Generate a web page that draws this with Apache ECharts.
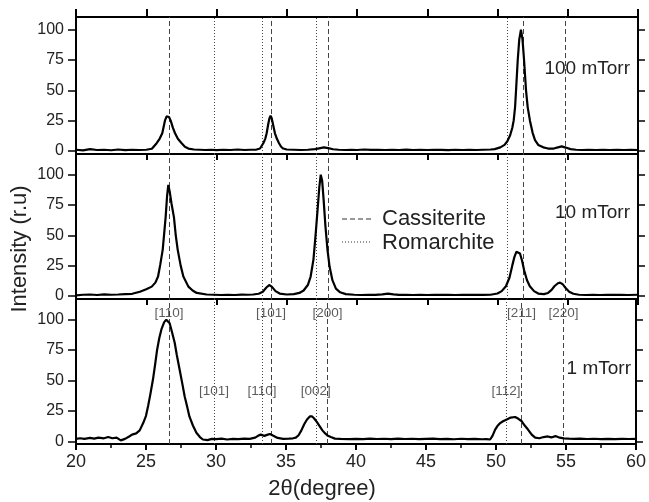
<!DOCTYPE html>
<html><head><meta charset="utf-8">
<script src="https://cdn.jsdelivr.net/npm/echarts@6/dist/echarts.min.js"></script>
<style>html,body{margin:0;padding:0;background:#fff}#c{width:649px;height:502px}</style>
</head><body><div id="c"></div>
<script>
// ---- data ----
const xTicksStep = 5;
const yTickValues = [0, 25, 50, 75, 100];
const panelNames = ['100 mTorr', '10 mTorr', '1 mTorr'];

const data100 = [[20,1],[20.5,0.5],[21,1.5],[21.5,0.8],[22,1],[22.5,0.6],[23,1.2],[23.5,0.7],[24,1],[24.5,0.8],[25,1],[25.4,1.8],[25.74,6.4],[25.95,10],[26.14,14.6],[26.33,25],[26.45,28.5],[26.53,29],[26.62,28],[26.74,25],[26.9,19],[27.05,14.6],[27.25,10],[27.52,6.4],[27.75,3.5],[28,2],[28.4,1.2],[28.8,1],[29.2,0.8],[29.6,1],[30,0.7],[30.5,1],[31,0.8],[31.5,1.2],[32,0.8],[32.4,1],[32.8,1],[33.1,2],[33.33,6.4],[33.47,10],[33.57,14.6],[33.68,22],[33.77,27],[33.85,29],[33.93,27],[34.02,22],[34.16,14.6],[34.3,10],[34.45,6.4],[34.6,3.5],[34.75,2],[35,1.2],[35.5,1],[36,0.8],[36.5,1],[37,1.5],[37.3,2.2],[37.65,3],[37.95,2.4],[38.3,1.4],[38.7,1],[39.2,0.8],[39.6,1],[40,0.8],[40.5,1.2],[41,0.9],[41.5,1],[42,0.8],[42.5,1],[43,0.8],[43.5,1.1],[44,0.8],[44.5,1],[45,0.8],[45.5,1],[46,0.9],[46.5,0.7],[47,1],[47.5,0.8],[48,1],[48.5,0.8],[49,1],[49.5,1.2],[49.8,1.5],[50.2,3],[50.5,5],[50.7,8],[50.9,13],[51.05,19],[51.15,25],[51.25,36],[51.32,50],[51.44,75],[51.55,92],[51.67,100],[51.78,92],[51.89,75],[52.03,50],[52.15,36],[52.31,25],[52.5,15],[52.67,9],[52.9,5],[53.26,3],[53.6,2],[54,2],[54.3,3],[54.57,3.8],[54.85,2.8],[55.2,1.5],[55.6,1],[56,0.8],[56.5,1],[57,0.8],[57.5,1],[58,0.8],[58.5,1],[59,0.8],[59.5,1],[60,0.8]];

const data10 = [[20,0.5],[20.5,1],[21,1.2],[21.5,0.8],[22,1.3],[22.5,1],[23,1.2],[23.5,1.5],[24,1.8],[24.55,3.5],[25,5.5],[25.39,7.7],[25.65,11],[25.84,16],[26,26],[26.17,38],[26.28,52],[26.38,65],[26.48,82],[26.57,91.5],[26.67,86],[26.8,76],[26.97,65],[27.1,50],[27.24,38],[27.45,25],[27.64,16],[28,7.7],[28.3,4.5],[28.59,2.5],[29.3,1.2],[29.8,1],[30.3,0.8],[30.8,1],[31.3,0.8],[31.8,1.1],[32.2,1],[32.6,1.2],[33,1.8],[33.3,3.5],[33.55,7],[33.75,9],[33.95,7.5],[34.2,4],[34.5,2],[35,1.2],[35.5,1.5],[35.9,2.5],[36.2,4.5],[36.5,9],[36.7,16],[36.9,30],[37.05,50],[37.2,72],[37.32,90],[37.42,100],[37.52,95],[37.62,80],[37.75,58],[37.9,38],[38.05,24],[38.25,13],[38.5,6],[38.8,3],[39.2,1.5],[39.8,1],[40.3,0.8],[40.8,1],[41.3,0.9],[41.8,1.3],[42.2,2],[42.6,1.3],[43,0.9],[43.5,1],[44,0.8],[44.5,1],[45,0.8],[45.5,1],[46,0.9],[46.5,1],[47,0.8],[47.5,1],[48,0.9],[48.5,1],[49,0.9],[49.5,1],[50,2],[50.3,4],[50.6,8],[50.85,15],[51.05,25],[51.2,32],[51.35,36.5],[51.45,37],[51.6,35],[51.75,29],[51.9,21],[52.1,13],[52.3,8],[52.6,4],[52.9,2],[53.3,1.5],[53.6,2.5],[53.85,5],[54.05,8],[54.3,10.5],[54.45,11],[54.65,9.5],[54.85,6.5],[55.1,3.5],[55.4,1.8],[55.8,1],[56.3,0.8],[56.8,1],[57.3,0.8],[57.8,1],[58.3,0.9],[58.8,1],[59.3,0.8],[60,1]];

const data1 = [[20,2],[20.3,2.5],[20.6,2],[21,2.8],[21.3,2.2],[21.6,3],[22,2.5],[22.3,3.5],[22.6,2.5],[22.9,3],[23.2,0.8],[23.5,2],[23.8,4],[24,5.5],[24.3,6.5],[24.55,9],[24.8,15],[25,21],[25.15,29],[25.3,38],[25.5,51],[25.65,63],[25.79,75],[25.95,85],[26.1,92],[26.3,98],[26.45,100],[26.55,99],[26.69,97],[26.85,90],[27.05,81],[27.2,71],[27.4,59],[27.6,47],[27.76,37],[27.95,28],[28.1,20.5],[28.35,13],[28.6,7],[28.85,3.5],[29.06,1.5],[29.4,1],[29.7,2],[30,1.8],[30.4,2.2],[30.8,1.5],[31.2,2],[31.6,1.8],[32,2.2],[32.4,2],[32.8,3],[33,4.5],[33.2,5.5],[33.45,4.5],[33.7,5.5],[33.85,6],[34.1,4.5],[34.4,2.8],[34.8,2],[35.2,2.2],[35.5,2.5],[35.7,3],[35.9,5],[36.1,9],[36.3,14],[36.5,18],[36.7,20.5],[36.85,20.6],[37,19],[37.2,16],[37.4,12.5],[37.6,9],[37.8,6.5],[38,4.5],[38.2,3.5],[38.5,2.2],[38.9,2],[39.5,1.8],[40,2],[40.5,1.8],[41,2.2],[41.5,1.9],[42,2.1],[42.5,1.8],[43,2.2],[43.5,1.9],[44,2.1],[44.5,1.8],[45,2],[45.5,2.2],[46,1.8],[46.5,2],[47,1.7],[47.5,2.1],[48,1.8],[48.5,2],[49,1.7],[49.3,1.8],[49.58,1.5],[49.75,4.5],[49.94,9.6],[50.1,12.5],[50.3,15],[50.5,16.5],[50.77,18],[51.05,19.5],[51.37,20],[51.6,18.5],[51.84,16.5],[52.05,13],[52.3,9.5],[52.55,5.5],[52.8,3],[53.1,2.5],[53.4,3.5],[53.7,4],[53.95,3.2],[54.25,4.3],[54.55,3],[54.85,2.4],[55.2,2.2],[55.6,2],[56,2.2],[56.5,1.9],[57,2.1],[57.5,1.8],[58,2],[58.5,1.8],[59,2],[59.5,1.9],[60,2]];

const cassiterite = [26.64, 33.93, 37.96, 51.82, 54.83];
const cassiteriteLabels = ['[110]', '[101]', '[200]', '[211]', '[220]'];
const cassiteriteLabelY = [105, 105, 105, 105, 105];
const romarchite = [29.85, 33.28, 37.13, 50.72];
const romarchiteLabels = ['[101]', '[110]', '[002]', '[112]'];
const romarchiteLabelY = [41, 41, 41, 41];

// ---- chart ----
const FONT = 'Liberation Sans, Arial, Helvetica, sans-serif';
const chart = echarts.init(document.getElementById('c'), null, {renderer: 'canvas'});

const grids = [
  {left: 76, width: 562, top: 17, height: 137},
  {left: 76, width: 562, top: 154, height: 145},
  {left: 76, width: 562, top: 299, height: 145}
];
const yRanges = [[-2.5, 110.5], [-2.5, 117], [-2.2, 117]];

function xAx(grid, pos, opts) {
  return Object.assign({
    type: 'value', gridIndex: grid, position: pos, min: 20, max: 60, interval: xTicksStep,
    axisLine: {show: true, onZero: false, lineStyle: {color: '#000', width: 2}},
    axisTick: {show: true, inside: false, length: 6, lineStyle: {color: '#000', width: 2}},
    axisLabel: {show: false},
    splitLine: {show: false}
  }, opts || {});
}
function yAx(grid, pos, withLabels) {
  return {
    type: 'value', gridIndex: grid, position: pos, min: yRanges[grid][0], max: yRanges[grid][1],
    axisLine: {show: true, onZero: false, lineStyle: {color: '#000', width: 2}},
    axisTick: {show: true, inside: false, length: pos === 'left' ? 8 : 7, customValues: yTickValues, lineStyle: {color: '#000', width: 1.5}},
    axisLabel: withLabels ? {show: true, customValues: yTickValues, margin: 12, fontSize: 16, fontFamily: FONT, color: '#222'} : {show: false},
    splitLine: {show: false}
  };
}

const xAxes = [
  xAx(0, 'bottom'),
  xAx(0, 'top', {axisTick: {show: true, inside: false, length: 8, lineStyle: {color: '#000', width: 2}}}),
  xAx(1, 'bottom'),
  xAx(2, 'bottom', {
    axisLabel: {show: true, margin: 9, fontSize: 18, fontFamily: FONT, color: '#222'},
    minorTick: {show: true, splitNumber: 2, length: 4, lineStyle: {color: '#000', width: 1.5}}
  })
];
const yAxes = [yAx(0, 'left', true), yAx(0, 'right', false), yAx(1, 'left', true), yAx(1, 'right', false), yAx(2, 'left', true), yAx(2, 'right', false)];

function refLines() {
  return {
    silent: true, symbol: ['none', 'none'], label: {show: false}, animation: false,
    data: cassiterite.map(v => ({xAxis: v, lineStyle: {type: [5, 3], color: '#444', width: 1}}))
      .concat(romarchite.map(v => ({xAxis: v, lineStyle: {type: [1, 2], color: '#444', width: 1}})))
  };
}
function curve(data, xi, yi) {
  return {
    type: 'line', xAxisIndex: xi, yAxisIndex: yi, data: data, showSymbol: false, symbol: 'none',
    lineStyle: {color: '#000', width: 2.2}, z: 5, markLine: refLines()
  };
}
function labelSeries(xs, ys, texts) {
  return {
    type: 'scatter', xAxisIndex: 3, yAxisIndex: 4, symbolSize: 1, silent: true,
    itemStyle: {color: 'rgba(0,0,0,0)'},
    data: xs.map((x, i) => ({value: [x, ys[i]], name: texts[i]})),
    label: {show: true, position: 'inside', formatter: p => p.name, fontSize: 13.5, fontFamily: FONT, color: '#333'},
    z: 6
  };
}

const option = {
  backgroundColor: '#fff',
  animation: false,
  grid: grids,
  xAxis: xAxes,
  yAxis: yAxes,
  series: [
    curve(data100, 0, 0),
    curve(data10, 2, 2),
    curve(data1, 3, 4),
    labelSeries(cassiterite, cassiteriteLabelY, cassiteriteLabels),
    labelSeries(romarchite, romarchiteLabelY, romarchiteLabels)
  ],
  graphic: [
    {type: 'text', right: 19, top: 59, style: {text: panelNames[0], fontSize: 19, fontFamily: FONT, fill: '#222'}},
    {type: 'text', right: 19, top: 203, style: {text: panelNames[1], fontSize: 19, fontFamily: FONT, fill: '#222'}},
    {type: 'text', right: 18, top: 359, style: {text: panelNames[2], fontSize: 19, fontFamily: FONT, fill: '#222'}},
    {type: 'line', shape: {x1: 342, y1: 219, x2: 371, y2: 219}, style: {stroke: '#333', lineWidth: 1, lineDash: [5, 3]}},
    {type: 'text', x: 382, y: 219, style: {text: 'Cassiterite', fontSize: 22, fontFamily: FONT, fill: '#222', verticalAlign: 'middle'}},
    {type: 'line', shape: {x1: 342, y1: 242, x2: 371, y2: 242}, style: {stroke: '#333', lineWidth: 1, lineDash: [1, 2]}},
    {type: 'text', x: 382, y: 243, style: {text: 'Romarchite', fontSize: 22, fontFamily: FONT, fill: '#222', verticalAlign: 'middle'}},
    {type: 'text', x: 20, y: 249, rotation: Math.PI / 2, style: {text: 'Intensity (r.u)', fontSize: 22, fontFamily: FONT, fill: '#222', align: 'center', verticalAlign: 'middle'}},
    {type: 'text', x: 322, y: 489, style: {text: '2θ(degree)', fontSize: 22, fontFamily: FONT, fill: '#222', align: 'center', verticalAlign: 'middle'}}
  ]
};
chart.setOption(option);
</script>
</body></html>
